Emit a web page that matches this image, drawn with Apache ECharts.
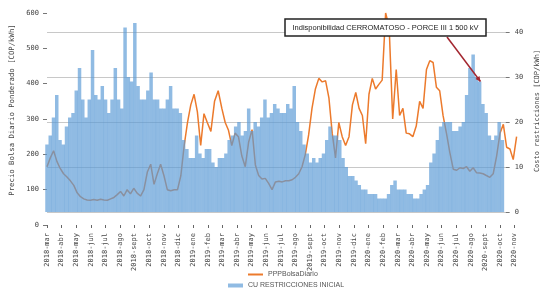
<!DOCTYPE html>
<html><head><meta charset="utf-8">
<script src="https://cdn.jsdelivr.net/npm/echarts@6/dist/echarts.min.js"></script>
<style>html,body{margin:0;padding:0;background:#fff}#c{width:549px;height:293px}</style>
</head><body><div id="c"></div>
<script>
// ---- DATA ----
const monthLabels = ['2018-mar','2018-abr','2018-may','2018-jun','2018-jul','2018-ago','2018-sept','2018-oct','2018-nov','2018-dic',
  '2019-ene','2019-feb','2019-mar','2019-abr','2019-may','2019-jun','2019-jul','2019-ago','2019-sept','2019-oct','2019-nov','2019-dic',
  '2020-ene','2020-feb','2020-mar','2020-abr','2020-may','2020-jun','2020-jul','2020-ago','2020-sept','2020-oct','2020-nov'];
const firstWeek = [2018, 3, 1]; // weekly samples starting 2018-03-01
const weekCount = 142;          // weekly slots on the axis (2018-03-01 .. 2020-11-12)
const ppBolsaDiario = [165,190,210,180,160,145,136,125,112,91,80,74,71,70,72,70,73,71,70,74,
  78,86,95,82,100,88,104,90,82,100,150,172,115,145,172,140,100,97,100,100,
  140,225,290,340,370,320,225,315,290,265,350,380,330,290,268,225,260,250,195,165,
  235,270,170,140,130,132,118,100,122,124,122,125,125,128,135,145,165,200,255,330,
  385,415,405,408,360,260,190,290,250,225,250,340,375,330,310,230,370,415,385,398,
  410,600,560,300,440,310,330,260,258,250,280,350,330,440,465,460,390,380,310,260,
  205,158,155,162,160,165,152,162,148,147,145,140,135,145,195,260,285,220,215,185,250];
const cuRestricciones = [15,17,21,26,16,15,19,21,22,27,32,25,21,25,36,26,25,28,25,22,
  25,32,25,23,41,30,29,42,28,25,25,27,31,25,25,23,23,25,28,23,
  23,22,16,14,12,12,17,13,12,14,14,11,10,12,12,13,16,17,19,20,
  17,18,23,18,20,19,21,25,21,22,24,23,22,22,24,23,28,20,18,15,
  13,11,12,11,12,13,16,19,17,17,16,12,10,8,8,7,6,5,5,4,
  4,4,3,3,3,4,6,7,5,5,5,4,4,3,3,4,5,6,11,13,
  16,19,20,20,20,18,18,19,20,26,32,35,30,29,24,22,17,16,17,20,16];
const leftTicks = [0, 600, 100];
const rightTicks = [0, 40, 10];

function weekDate(i){ return new Date(Date.UTC(firstWeek[0], firstWeek[1]-1, firstWeek[2] + 7*i)); }
// date -> fractional month position on the axis (0 = 2018-mar)
function monthPos(d){
  const y = d.getUTCFullYear(), m = d.getUTCMonth(), day = d.getUTCDate();
  const dim = new Date(Date.UTC(y, m+1, 0)).getUTCDate();
  return (y-2018)*12 + (m-2) + (day-1)/dim;
}
const weekCats = Array.from({length:weekCount}, (_,i)=>weekDate(i).toISOString().slice(0,10));
const lineData = ppBolsaDiario.map((v,i)=>[monthPos(weekDate(i)), v]);
const tickVals = monthLabels.map((_,i)=>i);
const xMax = monthPos(weekDate(weekCount-1));

const MONO = 'DejaVu Sans Mono';
const SANS = 'Liberation Sans';
const chart = echarts.init(document.getElementById('c'));
chart.setOption({
  animation:false,
  backgroundColor:'#fff',
  grid:[
    {left:47, right:29, top:32, bottom:81},
    {left:47, right:29, top:13, bottom:68}
  ],
  xAxis:[
    {type:'category', gridIndex:0, data:weekCats, boundaryGap:false, show:false},
    {type:'value', gridIndex:1, min:0, max:xMax, interval:1,
     axisLine:{show:false}, splitLine:{show:false},
     axisTick:{show:true, length:3, lineStyle:{color:'#666'}, customValues:tickVals},
     axisLabel:{rotate:90, margin:8, fontSize:7, fontFamily:MONO, color:'#444',
       customValues:tickVals, formatter:v=>monthLabels[Math.round(v)]||''}}
  ],
  yAxis:[
    {type:'value', gridIndex:0, position:'right', min:rightTicks[0], max:rightTicks[1], interval:rightTicks[2],
     axisLine:{show:false}, axisTick:{show:true, length:4, lineStyle:{color:'#777'}},
     splitLine:{show:true, lineStyle:{color:'#c8c8c8', width:1}},
     axisLabel:{margin:9, fontSize:7, fontFamily:MONO, color:'#444'},
     name:'Costo restricciones [COP/kWh]', nameLocation:'middle', nameGap:20,
     nameTextStyle:{fontSize:7, fontFamily:MONO, color:'#444', padding:[0,0,0,22]}},
    {type:'value', gridIndex:1, position:'left', min:leftTicks[0], max:leftTicks[1], interval:leftTicks[2],
     axisLine:{show:false}, axisTick:{show:true, length:4, lineStyle:{color:'#777'}},
     splitLine:{show:false},
     axisLabel:{margin:8, fontSize:7, fontFamily:MONO, color:'#444'},
     name:'Precio Bolsa Diario Ponderado [COP/kWh]', nameLocation:'middle', nameGap:25,
     nameTextStyle:{fontSize:7.3, fontFamily:MONO, color:'#444', padding:[0,0,0,18]}}
  ],
  legend:[
    {data:[{name:'PPPBolsaDiario', icon:'rect'}], left:248, top:271, padding:0, itemWidth:15, itemHeight:2,
     textStyle:{fontSize:7, fontFamily:SANS, color:'#555'}},
    {data:[{name:'CU RESTRICCIONES INICIAL', icon:'rect'}], left:228, top:282, padding:0, itemWidth:15, itemHeight:4,
     textStyle:{fontSize:7, fontFamily:SANS, color:'#555'}}
  ],
  series:[
    {name:'PPPBolsaDiario', type:'line', xAxisIndex:1, yAxisIndex:1, data:lineData,
     showSymbol:false, clip:false, z:2,
     lineStyle:{color:'#ec7a2c', width:1.5}, itemStyle:{color:'#ec7a2c'}},
    {name:'CU RESTRICCIONES INICIAL', type:'bar', xAxisIndex:0, yAxisIndex:0, data:cuRestricciones,
     barWidth:3.5, clip:false, z:3,
     itemStyle:{color:'#5b9bd5', opacity:0.68}}
  ]
});

// annotation: box + arrow pointing at the Sep-2020 restriction peak
const tip = [chart.convertToPixel({xAxisIndex:1}, 29.66), chart.convertToPixel({yAxisIndex:0}, 29)];
const start = [447, 37];
const ang = Math.atan2(tip[1]-start[1], tip[0]-start[0]);
const hl = 5, hw = 2.5;
const head = [
  tip,
  [tip[0]-hl*Math.cos(ang)+hw*Math.sin(ang), tip[1]-hl*Math.sin(ang)-hw*Math.cos(ang)],
  [tip[0]-hl*Math.cos(ang)-hw*Math.sin(ang), tip[1]-hl*Math.sin(ang)+hw*Math.cos(ang)]
];
chart.setOption({graphic:[
  {type:'line', shape:{x1:start[0], y1:start[1], x2:tip[0], y2:tip[1]}, style:{stroke:'#a3262f', lineWidth:1.5}, z:10},
  {type:'polygon', shape:{points:head}, style:{fill:'#a3262f'}, z:10},
  {type:'rect', shape:{x:285, y:19, width:201, height:17}, style:{fill:'#fff', stroke:'#222', lineWidth:1.5}, z:11},
  {type:'text', x:385.5, y:27.5, style:{text:'Indisponibilidad CERROMATOSO - PORCE III 1 500 kV', fontSize:7.5, fontFamily:SANS,
    fill:'#222', align:'center', verticalAlign:'middle'}, z:12}
]});
</script>
</body></html>
